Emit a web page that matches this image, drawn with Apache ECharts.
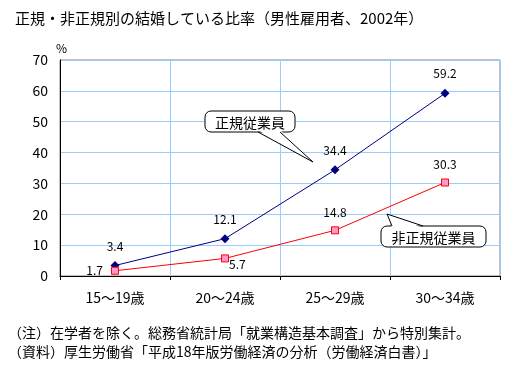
<!DOCTYPE html>
<html>
<head>
<meta charset="utf-8">
<script src="https://cdn.jsdelivr.net/npm/echarts@6/dist/echarts.min.js"></script>
<style>
  html, body { margin: 0; padding: 0; background: #fff; }
  #main { width: 527px; height: 375px; }
</style>
</head>
<body>
<div id="main"></div>
<script>
const categories = ['15～19歳', '20～24歳', '25～29歳', '30～34歳'];
const regularRate = [3.4, 12.1, 34.4, 59.2];
const nonRegularRate = [1.7, 5.7, 14.8, 30.3];
const yTicks = [0, 10, 20, 30, 40, 50, 60, 70];

const FONT = '"Noto Sans CJK JP", sans-serif';

// label placement for the non-regular series (left, lower right, above, above)
const nonRegLabelPos = [
  { position: 'left', distance: 8 },
  { position: [8, 4] },
  { position: 'top', distance: 8 },
  { position: 'top', distance: 8 }
];

// speech-bubble callout: rounded box + tail
function callout(box, tail, text) {
  return [
    {
      type: 'rect',
      shape: { x: box[0], y: box[1], width: box[2], height: box[3], r: 6 },
      style: { fill: '#fff', stroke: '#000', lineWidth: 1 },
      z: 10
    },
    {
      type: 'polygon',
      shape: { points: [tail[0], tail[1], tail[2]] },
      style: { fill: '#fff' },
      z: 11
    },
    {
      type: 'polyline',
      shape: { points: [tail[3], tail[1], tail[4]] },
      style: { stroke: '#000', lineWidth: 1, fill: null },
      z: 12
    },
    {
      type: 'text', x: box[0] + box[2] / 2, y: box[1] + box[3] / 2 + 1,
      style: { text: text, font: '14px ' + FONT, fill: '#000', align: 'center', verticalAlign: 'middle' },
      z: 13
    }
  ];
}

const chart = echarts.init(document.getElementById('main'));

const option = {
  backgroundColor: '#fff',
  animation: false,
  textStyle: { fontFamily: FONT },
  title: {
    text: '正規・非正規別の結婚している比率（男性雇用者、2002年）',
    left: 10,
    top: 6,
    textStyle: { fontSize: 15, fontWeight: 'normal', color: '#000', fontFamily: FONT }
  },
  grid: {
    left: 60, right: 27, top: 60, bottom: 99,
    show: true, borderColor: '#808080', borderWidth: 1
  },
  xAxis: {
    type: 'category',
    data: categories,
    boundaryGap: true,
    axisLine: { lineStyle: { color: '#000', width: 1 } },
    axisTick: { show: true, length: 4, lineStyle: { color: '#000' } },
    splitLine: { show: true, lineStyle: { color: '#99ccff', width: 1 } },
    axisLabel: { color: '#000', fontSize: 14, margin: 15, fontFamily: FONT }
  },
  yAxis: {
    type: 'value',
    min: yTicks[0],
    max: yTicks[yTicks.length - 1],
    interval: 10,
    name: '%',
    nameLocation: 'end',
    nameGap: 6,
    nameTextStyle: { color: '#000', fontSize: 12, align: 'left', padding: [0, 0, 0, -4] },
    axisLine: { show: true, lineStyle: { color: '#000', width: 1 } },
    axisTick: { show: false },
    splitLine: { show: true, lineStyle: { color: '#99ccff', width: 1 } },
    axisLabel: { color: '#000', fontSize: 14, margin: 12, fontFamily: FONT }
  },
  series: [
    {
      name: '正規従業員',
      type: 'line',
      data: regularRate,
      symbol: 'diamond',
      symbolSize: 9,
      lineStyle: { color: '#000080', width: 1 },
      itemStyle: { color: '#000080' },
      label: {
        show: true, position: 'top', distance: 9,
        color: '#000', fontSize: 12, fontFamily: FONT,
        formatter: p => p.value.toFixed(1)
      },
      z: 3
    },
    {
      name: '非正規従業員',
      type: 'line',
      data: nonRegularRate.map((v, i) => ({ value: v, label: nonRegLabelPos[i] })),
      symbol: 'rect',
      symbolSize: 7,
      lineStyle: { color: '#ff0000', width: 1 },
      itemStyle: { color: '#ff99cc', borderColor: '#ff0000', borderWidth: 1 },
      label: {
        show: true,
        color: '#000', fontSize: 12, fontFamily: FONT,
        formatter: p => p.value.toFixed(1)
      },
      z: 3
    }
  ],
  graphic: [].concat(
    callout([205, 111, 90, 21],
      [[258, 130], [313, 162], [280, 130], [258, 132], [280, 132]], '正規従業員'),
    callout([381, 226, 105, 21],
      [[392, 228], [387, 214], [423, 228], [392, 226], [423, 226]], '非正規従業員'),
    [
      {
        type: 'text', x: 8, y: 333,
        style: { text: '（注）在学者を除く。総務省統計局「就業構造基本調査」から特別集計。', font: '14px ' + FONT, fill: '#000', verticalAlign: 'middle' }
      },
      {
        type: 'text', x: 8, y: 352,
        style: { text: '（資料）厚生労働省「平成18年版労働経済の分析（労働経済白書）」', font: '14px ' + FONT, fill: '#000', verticalAlign: 'middle' }
      }
    ]
  )
};

chart.setOption(option);
</script>
</body>
</html>
